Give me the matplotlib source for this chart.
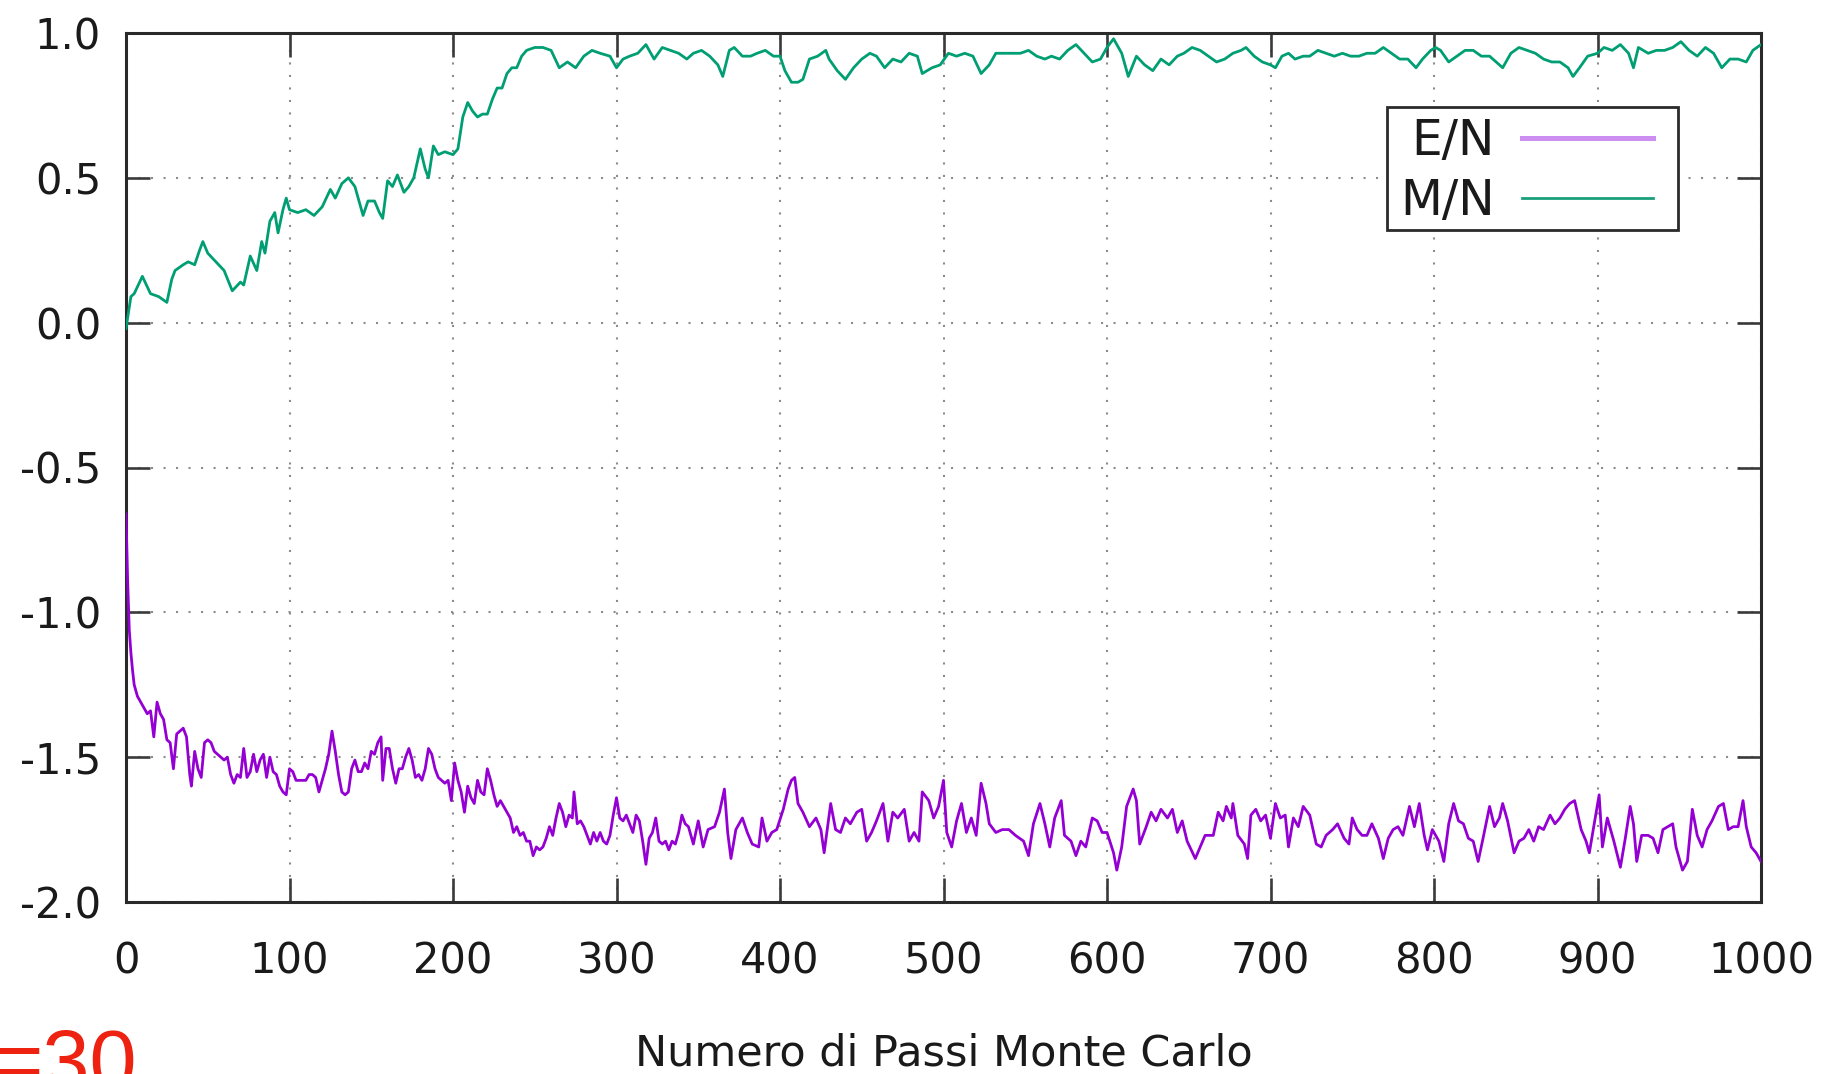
import matplotlib
matplotlib.use("Agg")
import matplotlib.pyplot as plt
from matplotlib.patches import Rectangle
from matplotlib.ticker import FormatStrFormatter

# Monte Carlo steps and magnetisation per spin
mn_steps = [
    0, 3, 5, 10, 15, 20, 25, 28, 30, 35,
    38, 42, 45, 47, 50, 55, 60, 65, 70, 72,
    76, 80, 83, 85, 88, 91, 93, 96, 98, 100,
    105, 110, 115, 120, 125, 128, 132, 136, 140, 143,
    145, 148, 152, 155, 157, 160, 163, 166, 170, 173,
    176, 180, 183, 185, 188, 191, 195, 200, 203, 206,
    209, 212, 215, 218, 221, 224, 227, 230, 233, 236,
    239, 242, 245, 250, 255, 260, 265, 270, 275, 280,
    285, 290, 296, 300, 304, 308, 313, 318, 323, 328,
    333, 338, 343, 347, 352, 357, 362, 365, 369, 372,
    377, 382, 386, 391, 396, 400, 403, 407, 411, 414,
    418, 423, 428, 430, 435, 440, 445, 450, 455, 459,
    464, 469, 474, 479, 484, 487, 493, 498, 503, 508,
    513, 518, 523, 528, 532, 537, 542, 547, 552, 557,
    562, 566, 571, 576, 581, 586, 591, 596, 600, 604,
    609, 613, 618, 623, 628, 633, 638, 643, 647, 652,
    657, 662, 667, 672, 677, 682, 685, 690, 695, 700,
    703, 707, 711, 715, 720, 724, 729, 734, 739, 744,
    749, 754, 759, 764, 769, 774, 779, 784, 789, 793,
    798, 801, 804, 809, 814, 819, 824, 829, 834, 842,
    847, 852, 857, 862, 867, 872, 877, 882, 885, 889,
    894, 900, 904, 909, 914, 919, 922, 925, 931, 936,
    941, 946, 951, 956, 961, 966, 971, 976, 981, 986,
    991, 995, 1000,
]
mn_values = [
    -0.02, 0.09, 0.10, 0.16, 0.10, 0.09, 0.07, 0.15, 0.18, 0.20,
    0.21, 0.20, 0.25, 0.28, 0.24, 0.21, 0.18, 0.11, 0.14, 0.13,
    0.23, 0.18, 0.28, 0.24, 0.35, 0.38, 0.31, 0.39, 0.43, 0.39,
    0.38, 0.39, 0.37, 0.40, 0.46, 0.43, 0.48, 0.50, 0.47, 0.41,
    0.37, 0.42, 0.42, 0.38, 0.36, 0.49, 0.47, 0.51, 0.45, 0.47,
    0.50, 0.60, 0.53, 0.50, 0.61, 0.58, 0.59, 0.58, 0.60, 0.71,
    0.76, 0.73, 0.71, 0.72, 0.72, 0.77, 0.81, 0.81, 0.86, 0.88,
    0.88, 0.92, 0.94, 0.95, 0.95, 0.94, 0.88, 0.90, 0.88, 0.92,
    0.94, 0.93, 0.92, 0.88, 0.91, 0.92, 0.93, 0.96, 0.91, 0.95,
    0.94, 0.93, 0.91, 0.93, 0.94, 0.92, 0.89, 0.85, 0.94, 0.95,
    0.92, 0.92, 0.93, 0.94, 0.92, 0.92, 0.87, 0.83, 0.83, 0.84,
    0.91, 0.92, 0.94, 0.91, 0.87, 0.84, 0.88, 0.91, 0.93, 0.92,
    0.88, 0.91, 0.90, 0.93, 0.92, 0.86, 0.88, 0.89, 0.93, 0.92,
    0.93, 0.92, 0.86, 0.89, 0.93, 0.93, 0.93, 0.93, 0.94, 0.92,
    0.91, 0.92, 0.91, 0.94, 0.96, 0.93, 0.90, 0.91, 0.95, 0.98,
    0.93, 0.85, 0.92, 0.89, 0.87, 0.91, 0.89, 0.92, 0.93, 0.95,
    0.94, 0.92, 0.90, 0.91, 0.93, 0.94, 0.95, 0.92, 0.90, 0.89,
    0.88, 0.92, 0.93, 0.91, 0.92, 0.92, 0.94, 0.93, 0.92, 0.93,
    0.92, 0.92, 0.93, 0.93, 0.95, 0.93, 0.91, 0.91, 0.88, 0.91,
    0.94, 0.95, 0.94, 0.90, 0.92, 0.94, 0.94, 0.92, 0.92, 0.88,
    0.93, 0.95, 0.94, 0.93, 0.91, 0.90, 0.90, 0.88, 0.85, 0.88,
    0.92, 0.93, 0.95, 0.94, 0.96, 0.93, 0.88, 0.95, 0.93, 0.94,
    0.94, 0.95, 0.97, 0.94, 0.92, 0.95, 0.93, 0.88, 0.91, 0.91,
    0.90, 0.94, 0.96,
]

# Monte Carlo steps and energy per spin
en_steps = [
    0, 1, 2, 3, 4, 5, 7, 9, 11, 13,
    15, 17, 19, 21, 23, 25, 27, 29, 31, 33,
    35, 37, 39, 40, 42, 44, 46, 48, 50, 52,
    54, 56, 58, 60, 62, 64, 66, 68, 70, 72,
    74, 76, 78, 80, 82, 84, 86, 88, 90, 92,
    94, 96, 98, 100, 102, 104, 106, 108, 110, 112,
    114, 116, 118, 120, 122, 124, 126, 128, 130, 132,
    134, 136, 138, 140, 142, 144, 146, 148, 150, 152,
    154, 156, 157, 159, 161, 163, 165, 167, 169, 171,
    173, 175, 177, 179, 181, 183, 185, 187, 189, 191,
    193, 195, 197, 199, 201, 203, 205, 207, 209, 211,
    213, 215, 217, 219, 221, 223, 225, 227, 229, 231,
    233, 235, 237, 239, 241, 243, 245, 247, 249, 251,
    253, 255, 257, 259, 261, 263, 265, 267, 269, 271,
    273, 274, 276, 278, 280, 282, 284, 286, 288, 290,
    292, 294, 296, 298, 300, 302, 304, 306, 308, 310,
    312, 314, 316, 318, 320, 322, 324, 326, 328, 330,
    332, 334, 336, 338, 340, 342, 344, 347, 350, 353,
    356, 360, 363, 366, 368, 370, 373, 377, 380, 383,
    387, 389, 392, 395, 398, 402, 405, 407, 409, 411,
    414, 418, 422, 425, 427, 431, 434, 437, 440, 443,
    447, 450, 453, 456, 459, 463, 466, 469, 472, 476,
    479, 482, 485, 487, 491, 494, 497, 500, 502, 505,
    508, 511, 514, 517, 520, 523, 526, 528, 532, 536,
    540, 544, 549, 552, 555, 559, 562, 565, 568, 572,
    574, 578, 581, 584, 587, 591, 594, 597, 600, 604,
    606, 609, 612, 616, 618, 620, 624, 627, 630, 633,
    637, 640, 643, 646, 649, 654, 657, 660, 665, 668,
    671, 673, 676, 677, 680, 684, 686, 688, 691, 694,
    697, 700, 703, 706, 709, 711, 714, 717, 720, 724,
    728, 731, 734, 738, 741, 745, 748, 750, 753, 756,
    759, 762, 766, 769, 772, 775, 778, 781, 785, 788,
    791, 794, 796, 799, 803, 806, 809, 812, 815, 818,
    821, 824, 827, 830, 834, 837, 840, 842, 845, 849,
    852, 855, 858, 861, 864, 867, 871, 874, 877, 880,
    883, 886, 890, 893, 895, 898, 901, 903, 906, 910,
    914, 917, 920, 922, 924, 927, 931, 934, 937, 940,
    943, 946, 948, 952, 955, 958, 961, 964, 967, 970,
    974, 977, 980, 983, 986, 989, 991, 994, 997, 1000,
]
en_values = [
    -0.66, -0.89, -1.06, -1.14, -1.20, -1.25, -1.29, -1.31, -1.33, -1.35,
    -1.34, -1.43, -1.31, -1.35, -1.37, -1.44, -1.45, -1.54, -1.42, -1.41,
    -1.40, -1.43, -1.56, -1.60, -1.48, -1.54, -1.57, -1.45, -1.44, -1.45,
    -1.48, -1.49, -1.50, -1.51, -1.50, -1.56, -1.59, -1.56, -1.57, -1.47,
    -1.57, -1.55, -1.49, -1.55, -1.51, -1.49, -1.57, -1.50, -1.55, -1.56,
    -1.60, -1.62, -1.63, -1.54, -1.55, -1.58, -1.58, -1.58, -1.58, -1.56,
    -1.56, -1.57, -1.62, -1.58, -1.54, -1.49, -1.41, -1.48, -1.56, -1.62,
    -1.63, -1.62, -1.54, -1.51, -1.55, -1.55, -1.52, -1.54, -1.48, -1.49,
    -1.45, -1.43, -1.58, -1.47, -1.47, -1.54, -1.59, -1.54, -1.54, -1.50,
    -1.47, -1.51, -1.57, -1.56, -1.58, -1.54, -1.47, -1.49, -1.54, -1.57,
    -1.58, -1.59, -1.58, -1.65, -1.52, -1.58, -1.62, -1.69, -1.60, -1.64,
    -1.66, -1.58, -1.62, -1.63, -1.54, -1.58, -1.63, -1.67, -1.65, -1.67,
    -1.69, -1.71, -1.76, -1.74, -1.77, -1.76, -1.79, -1.79, -1.84, -1.81,
    -1.82, -1.81, -1.78, -1.74, -1.77, -1.71, -1.66, -1.69, -1.74, -1.70,
    -1.71, -1.62, -1.73, -1.72, -1.74, -1.77, -1.80, -1.76, -1.79, -1.76,
    -1.79, -1.80, -1.77, -1.70, -1.64, -1.71, -1.72, -1.70, -1.73, -1.76,
    -1.70, -1.72, -1.79, -1.87, -1.78, -1.76, -1.71, -1.79, -1.80, -1.79,
    -1.82, -1.79, -1.80, -1.76, -1.70, -1.73, -1.74, -1.80, -1.72, -1.81,
    -1.75, -1.74, -1.69, -1.61, -1.76, -1.85, -1.75, -1.71, -1.76, -1.80,
    -1.81, -1.71, -1.79, -1.76, -1.75, -1.68, -1.61, -1.58, -1.57, -1.66,
    -1.69, -1.74, -1.71, -1.75, -1.83, -1.66, -1.75, -1.76, -1.71, -1.73,
    -1.69, -1.68, -1.79, -1.76, -1.72, -1.66, -1.79, -1.69, -1.71, -1.68,
    -1.79, -1.76, -1.79, -1.62, -1.65, -1.71, -1.67, -1.58, -1.76, -1.81,
    -1.72, -1.66, -1.76, -1.71, -1.77, -1.59, -1.66, -1.73, -1.76, -1.75,
    -1.75, -1.77, -1.79, -1.84, -1.73, -1.66, -1.73, -1.81, -1.71, -1.65,
    -1.77, -1.79, -1.84, -1.79, -1.81, -1.71, -1.72, -1.76, -1.76, -1.83,
    -1.89, -1.81, -1.67, -1.61, -1.65, -1.80, -1.74, -1.69, -1.72, -1.68,
    -1.71, -1.68, -1.76, -1.72, -1.79, -1.85, -1.81, -1.77, -1.77, -1.69,
    -1.72, -1.67, -1.71, -1.66, -1.77, -1.80, -1.85, -1.70, -1.68, -1.72,
    -1.70, -1.78, -1.66, -1.71, -1.70, -1.81, -1.71, -1.74, -1.67, -1.70,
    -1.80, -1.81, -1.77, -1.75, -1.73, -1.78, -1.80, -1.71, -1.75, -1.77,
    -1.77, -1.73, -1.78, -1.85, -1.78, -1.75, -1.74, -1.77, -1.67, -1.74,
    -1.66, -1.77, -1.82, -1.75, -1.79, -1.86, -1.73, -1.66, -1.72, -1.73,
    -1.78, -1.79, -1.86, -1.78, -1.67, -1.74, -1.71, -1.66, -1.72, -1.83,
    -1.79, -1.78, -1.75, -1.79, -1.74, -1.75, -1.70, -1.73, -1.71, -1.68,
    -1.66, -1.65, -1.75, -1.79, -1.83, -1.73, -1.63, -1.81, -1.71, -1.79,
    -1.88, -1.78, -1.67, -1.73, -1.86, -1.77, -1.77, -1.78, -1.83, -1.75,
    -1.74, -1.73, -1.81, -1.89, -1.86, -1.68, -1.77, -1.81, -1.75, -1.72,
    -1.67, -1.66, -1.75, -1.74, -1.74, -1.65, -1.74, -1.81, -1.83, -1.86,
]

series_labels = ["E/N", "M/N"]
series_colors = ["#9400d3", "#009e73"]
x_ticks = list(range(0, 1001, 100))
y_ticks = [-2.0, -1.5, -1.0, -0.5, 0.0, 0.5, 1.0]
x_label = "Numero di Passi Monte Carlo"
corner_note = "=30"

W, H, DPI = 1841, 1074, 100
fig = plt.figure(figsize=(W / DPI, H / DPI), dpi=DPI)
fig.patch.set_facecolor("white")
ax = fig.add_axes([126 / W, 1 - 902 / H, (1761 - 126) / W, (902 - 33) / H])

text_color = "#1a1a1a"
frame_color = "#2a2a2a"

ax.plot(en_steps, en_values, color=series_colors[0], lw=2.0, label=series_labels[0], zorder=3)
ax.plot(mn_steps, mn_values, color=series_colors[1], lw=2.0, label=series_labels[1], zorder=3)

ax.set_xlim(0, 1000)
ax.set_ylim(-2.0, 1.0)
ax.set_xticks(x_ticks)
ax.set_yticks(y_ticks)
ax.yaxis.set_major_formatter(FormatStrFormatter("%.1f"))

ax.grid(True, which="major", color="#8c8c8c", linestyle=(0, (1, 5)), linewidth=1.5, zorder=1)

for s in ax.spines.values():
    s.set_color(frame_color)
    s.set_linewidth(2.2)

ax.tick_params(axis="both", which="major", direction="in", length=17, width=1.9,
               color="#3a3a3a", top=True, right=True, labelcolor=text_color,
               labelsize=30)
ax.tick_params(axis="y", pad=18)
ax.tick_params(axis="x", pad=28)

ax.set_xlabel(x_label, fontsize=31, color=text_color, labelpad=36)

# key box drawn as a plain rectangle, entries placed inside it
key_box = Rectangle((0.7713, 0.7733), 0.9492 - 0.7713, 0.9148 - 0.7733,
                    transform=ax.transAxes, facecolor="white", edgecolor=frame_color,
                    linewidth=2.0, zorder=4)
ax.add_patch(key_box)

leg = ax.legend(loc="upper right", bbox_to_anchor=(0.934, 0.903), borderaxespad=0,
                fontsize=35, markerfirst=False, handlelength=2.7, handletextpad=0.55,
                borderpad=0.0, labelspacing=0.25, frameon=False)
leg.set_zorder(5)
leg_lines = leg.get_lines()
leg_lines[0].set_color("#cc8ef0")
leg_lines[0].set_linewidth(3.6)
leg_lines[1].set_color("#1aa07a")
leg_lines[1].set_linewidth(2.0)
for t in leg.get_texts():
    t.set_color(text_color)

fig.text(137 / W, -15 / H, corner_note, ha="right", va="baseline", fontsize=61,
         color="#ee2211", family="Liberation Sans")

fig.savefig("out.png", dpi=DPI)
